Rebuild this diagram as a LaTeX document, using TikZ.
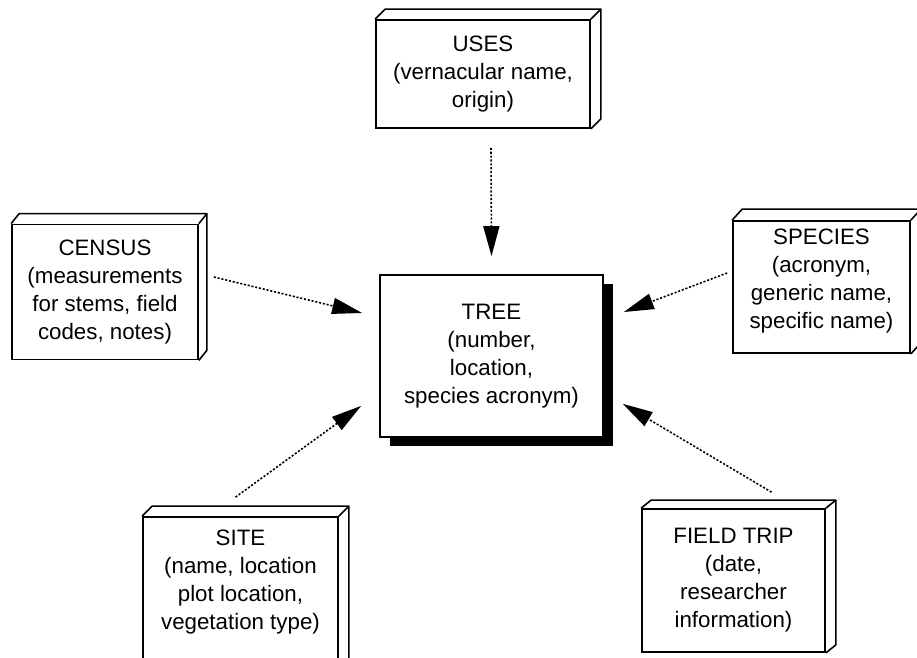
\documentclass[tikz,border=0pt]{standalone}
\usepackage{fontspec}
\setmainfont{Liberation Sans}
\usepackage{tikz}
\usetikzlibrary{arrows.meta,calc,shadows}
\tikzstyle{entity}=[rectangle, draw=black, line width=1pt, fill=white, inner sep=0pt, align=center, font=\fontsize{12.7pt}{15.9pt}\selectfont]
\tikzstyle{slab}=[draw=black, line width=0.9pt, line join=round]
\tikzstyle{mainentity}=[entity, drop shadow={shadow xshift=0.2cm, shadow yshift=-0.18cm, opacity=1, fill=black}]
\tikzstyle{linkarrow}=[-{Triangle[length=0.6cm,width=0.32cm]}, line width=0.9pt, dash pattern=on 1.2pt off 1pt]

\begin{document}
\begin{tikzpicture}[x=0.02cm, y=-0.02cm]
    \useasboundingbox (0,0) rectangle (917,657);

    % Entidade central
    \node[mainentity, minimum width=4.46cm, minimum height=3.24cm] (tree) at (491.5,356)
      {TREE\\(number,\\location,\\species acronym)};

    % Entidades ligadas
    \node[entity, minimum width=4.28cm, minimum height=2.16cm] (uses) at (483,74)
      {USES\\(vernacular name,\\origin)};
    \node[entity, minimum width=3.72cm, minimum height=2.7cm] (census) at (105,292)
      {CENSUS\\(measurements\\for stems, field\\codes, notes)};
    \node[entity, minimum width=3.54cm, minimum height=2.64cm] (species) at (821.5,287)
      {SPECIES\\(acronym,\\generic name,\\specific name)\\[-6pt]\mbox{}};
    \node[entity, minimum width=3.9cm, minimum height=3.08cm] (site) at (240.5,594)
      {SITE\\(name, location\\plot location,\\vegetation type)\\\mbox{}};
    \node[entity, minimum width=3.66cm, minimum height=2.86cm] (trip) at (733.5,580.5)
      {FIELD TRIP\\(date,\\researcher\\information)};

    % Faces de cima e do lado
    \draw[slab] (uses.north west) -- ++(10,-10) -- ($(uses.north east)+(10,-10)$)
      -- ($(uses.south east)+(10,-10)$) -- (uses.south east);
    \draw[slab] (uses.north east) -- ++(10,-10);
    \draw[slab] (census.north west) -- ++(8,-10) -- ($(census.north east)+(8,-10)$)
      -- ($(census.south east)+(8,-10)$) -- (census.south east);
    \draw[slab] (census.north east) -- ++(8,-10);
    \draw[slab] (species.north west) -- ++(10,-11) -- ($(species.north east)+(10,-11)$)
      -- ($(species.south east)+(10,-11)$) -- (species.south east);
    \draw[slab] (species.north east) -- ++(10,-11);
    \draw[slab] (site.north west) -- ++(10,-10) -- ($(site.north east)+(10,-10)$)
      -- ($(site.south east)+(10,-10)$) -- (site.south east);
    \draw[slab] (site.north east) -- ++(10,-10);
    \draw[slab] (trip.north west) -- ++(10,-8) -- ($(trip.north east)+(10,-8)$)
      -- ($(trip.south east)+(10,-8)$) -- (trip.south east);
    \draw[slab] (trip.north east) -- ++(10,-8);

    % Ligações
    \draw[linkarrow] ($(uses.south)+(8,19)$) -- ($(tree.north)+(0,-18)$);
    \draw[linkarrow] ($(census.east)+(15,-15)$) -- ($(tree.west)+(-17,-43)$);
    \draw[linkarrow] ($(species.west)+(-5,-14)$) -- ($(tree.east)+(20,-44)$);
    \draw[linkarrow] ($(site.north)+(-5,-19)$) -- ($(tree.south west)+(-18,-32)$);
    \draw[linkarrow] ($(trip.north)+(38,-16)$) -- ($(tree.south east)+(19,-34)$);
  \end{tikzpicture}
\end{document}
